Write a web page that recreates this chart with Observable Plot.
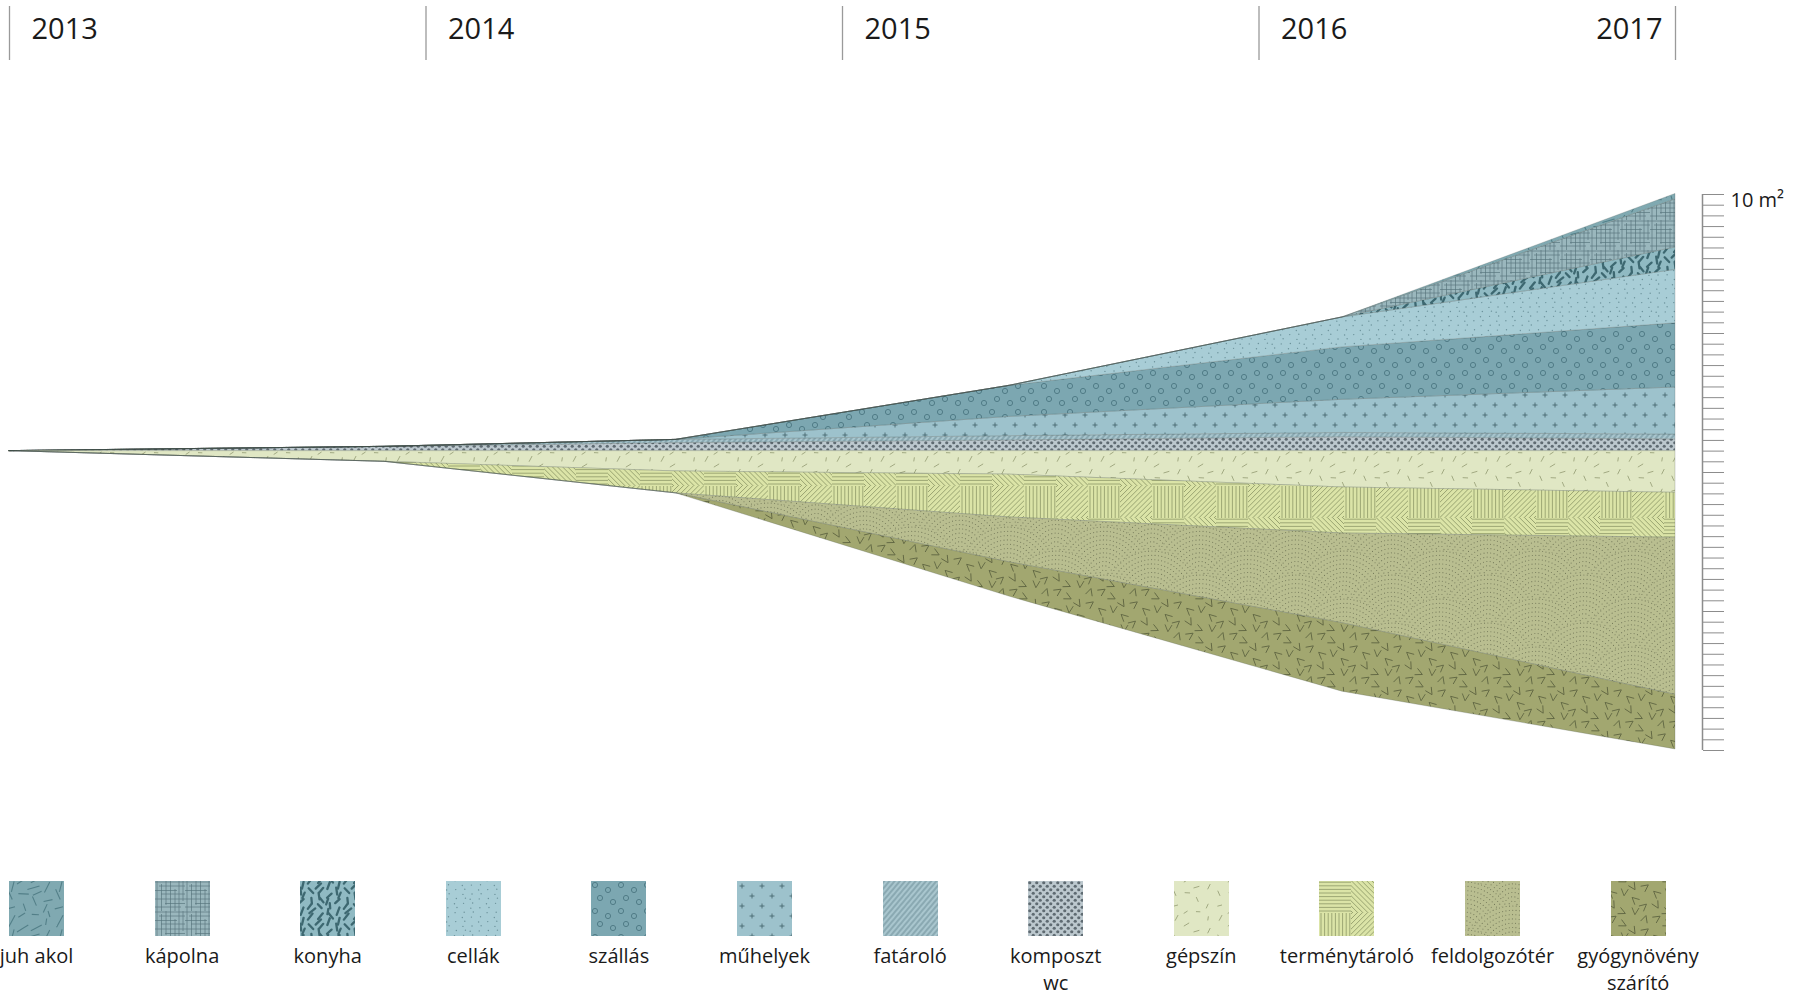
<!DOCTYPE html>
<html>
<head>
<meta charset="utf-8">
<script src="https://cdn.jsdelivr.net/npm/d3@7"></script>
<script src="https://cdn.jsdelivr.net/npm/@observablehq/plot@0.6"></script>
<style>
html, body { margin: 0; padding: 0; background: #fff; overflow: hidden; }
body { width: 1799px; height: 996px; position: relative; font-family: "Open Sans", sans-serif; color: #1a1a1a; }
svg { display: block; }
#legend { position: absolute; left: 0; top: 881px; width: 1799px; height: 115px; }
.item { position: absolute; top: 0; width: 146px; text-align: center; }
.item svg { margin: 0 auto; }
.lab { margin-top: 6px; font-size: 20px; line-height: 27px; white-space: pre-line; }
</style>
</head>
<body>
<svg width="0" height="0" style="position:absolute;left:0;top:0"><defs id="pdefs"></defs></svg>
<div id="header"></div>
<div id="main"></div>
<div id="legend"></div>
<script>
// ---------------- data ----------------
const categories = ["juh akol", "kápolna", "konyha", "cellák", "szállás", "műhelyek", "fatároló", "komposzt wc", "gépszín", "terménytároló", "feldolgozótér", "gyógynövény szárító"];
const legendLabels = ["juh akol", "kápolna", "konyha", "cellák", "szállás", "műhelyek", "fatároló", "komposzt\nwc", "gépszín", "terménytároló", "feldolgozótér", "gyógynövény\nszárító"];
const times = [2013, 2013.9, 2014.6, 2015.4, 2016.2, 2017];
const yearTicks = [2013, 2014, 2015, 2016, 2017];

// m² per category at each time point
const juhAkol       = [0, 0, 0,    0,  0,   5];
const kapolna       = [0, 0, 0,    0,  0,  45];
const konyha        = [0, 0, 0,    0,  0,  21];
const cellak        = [0, 0, 0,    0, 28,  50];
const szallas       = [0, 0, 0,   29, 49,  60];
const muhelyek      = [0, 0, 0,   18, 31,  44];
const fatarolo      = [0, 0, 3,    4,  4, 4.5];
const komposztWc    = [0, 4, 7.5, 10, 13,  11];
const gepszin       = [0, 10, 19, 22, 34,  39];
const termenytarolo = [0, 0, 20.5, 40, 43, 42];
const feldolgozoter = [0, 0, 0,   42, 84, 147];
const gyogynoveny   = [0, 0, 0,   32, 64,  51];

// stacking: upward from the centre line, and downward from it
const upward = [["komposzt wc", komposztWc], ["fatároló", fatarolo], ["műhelyek", muhelyek], ["szállás", szallas], ["cellák", cellak], ["konyha", konyha], ["kápolna", kapolna], ["juh akol", juhAkol]];
const downward = [["gépszín", gepszin], ["terménytároló", termenytarolo], ["feldolgozótér", feldolgozoter], ["gyógynövény szárító", gyogynoveny]];

const scaleMin = -280, scaleMax = 240, scaleStep = 10;
const scaleTicks = d3.range(scaleMin, scaleMax + 1, scaleStep);

const rows = [];
function stack(list, sign) {
  const base = times.map(() => 0);
  for (const [cat, vals] of list) {
    times.forEach((t, j) => {
      const y1 = base[j];
      const y2 = base[j] + sign * vals[j];
      rows.push({t, cat, y1, y2});
      base[j] = y2;
    });
  }
}
stack(upward, 1);
stack(downward, -1);

// ---------------- texture patterns ----------------
const defs = d3.select("#pdefs");
const fr = (i, a) => ((i + 1) * a) % 1;
const px = i => fr(i, 0.7548777), py = i => fr(i, 0.5698403);
const pa = i => (((i + 1) * (i + 2) * 0.3183099) % 1);
function pattern(id, w, h, bg, transform) {
  const p = defs.append("pattern").attr("id", id).attr("patternUnits", "userSpaceOnUse").attr("width", w).attr("height", h);
  if (transform) p.attr("patternTransform", transform);
  p.append("rect").attr("width", w).attr("height", h).attr("fill", bg);
  return p;
}
function wrapped(p, w, h, fn) {
  for (const ox of [-w, 0, w]) for (const oy of [-h, 0, h]) fn(p.append("g").attr("transform", `translate(${ox},${oy})`));
}
function dashes(p, w, h, n, l0, l1, a0, a1, stroke, sw, cap) {
  wrapped(p, w, h, g => {
    for (let i = 0; i < n; i++) {
      const cx = px(i) * w, cy = py(i) * h;
      const L = l0 + fr(i, 0.4142136) * (l1 - l0);
      const a = (a0 + pa(i) * (a1 - a0)) * Math.PI / 180;
      const dx = Math.cos(a) * L / 2, dy = Math.sin(a) * L / 2;
      g.append("line").attr("x1", cx - dx).attr("y1", cy - dy).attr("x2", cx + dx).attr("y2", cy + dy)
        .attr("stroke", stroke).attr("stroke-width", sw).attr("stroke-linecap", cap || "butt");
    }
  });
}
function dots(p, w, h, n, r, fill) {
  wrapped(p, w, h, g => {
    for (let i = 0; i < n; i++) {
      g.append("circle").attr("cx", px(i) * w).attr("cy", py(i) * h).attr("r", r).attr("fill", fill);
    }
  });
}

// 0 juh akol
dashes(pattern("p0", 48, 48, "#80a9b1"), 48, 48, 18, 6, 14, 0, 180, "#527f88", 1.1);
// 1 kápolna
{
  const p = pattern("p1", 30, 30, "#9ab7bd");
  const st = "#55727a";
  [[1, 0, 30], [5, 4, 30], [9.5, 0, 22], [13, 6, 30], [18, 0, 30], [22.5, 10, 30], [26, 0, 26]].forEach(([y, a, b]) =>
    p.append("line").attr("x1", a).attr("x2", b).attr("y1", y).attr("y2", y).attr("stroke", st).attr("stroke-width", 0.65));
  [[2, 0, 30], [6.5, 3, 30], [11, 0, 24], [15.5, 0, 30], [20, 8, 30], [24, 0, 30], [28, 0, 20]].forEach(([x, a, b]) =>
    p.append("line").attr("y1", a).attr("y2", b).attr("x1", x).attr("x2", x).attr("stroke", st).attr("stroke-width", 0.65));
}
// 2 konyha
dashes(pattern("p2", 36, 36, "#90bac3"), 36, 36, 22, 5, 8, 45, 145, "#3d6871", 2.3, "round");
// 3 cellák
dots(pattern("p3", 32, 32, "#a8cdd6"), 32, 32, 22, 0.7, "#6a919a");
// 4 szállás
{
  const p = pattern("p4", 26, 26, "#7ca7b1");
  wrapped(p, 26, 26, g => [[4, 4], [17, 9], [9, 17], [22, 21]].forEach(([x, y]) =>
    g.append("circle").attr("cx", x).attr("cy", y).attr("r", 2.6).attr("fill", "none").attr("stroke", "#4b7681").attr("stroke-width", 0.9)));
}
// 5 műhelyek
{
  const p = pattern("p5", 20, 20, "#9dc2cc");
  wrapped(p, 20, 20, g => [[5, 5], [15, 15]].forEach(([x, y]) =>
    g.append("path").attr("d", `M${x - 2.5},${y}H${x + 2.5}M${x},${y - 2.5}V${y + 2.5}`).attr("stroke", "#3f5e66").attr("stroke-width", 0.8)));
}
// 6 fatároló
{
  const p = pattern("p6", 4, 4, "#a9c6ce", "rotate(40)");
  p.append("line").attr("x1", 1).attr("x2", 1).attr("y1", 0).attr("y2", 4).attr("stroke", "#7d9da6").attr("stroke-width", 1.4);
}
// 7 komposzt wc
{
  const p = pattern("p7", 7, 7, "#bcc8ce");
  wrapped(p, 7, 7, g => [[1.75, 1.75], [5.25, 5.25]].forEach(([x, y]) =>
    g.append("circle").attr("cx", x).attr("cy", y).attr("r", 1.6).attr("fill", "#5f6b72")));
}
// 8 gépszín
dashes(pattern("p8", 44, 44, "#e0e7c4"), 44, 44, 12, 4, 6.5, 0, 180, "#9aa279", 0.9);
// 9 terménytároló
{
  const p = pattern("p9", 64, 64, "#dbe4a7");
  const st = "#8b9766";
  const blocks = [[0, 0, 0], [32, 0, 45], [0, 32, 90], [32, 32, -45]];
  blocks.forEach(([bx, by, ang]) => {
    const s = p.append("svg").attr("x", bx).attr("y", by).attr("width", 32).attr("height", 32).attr("overflow", "hidden");
    const g = s.append("g").attr("transform", `rotate(${ang},16,16)`);
    for (let k = -24; k <= 56; k += 3.6) g.append("line").attr("x1", -20).attr("x2", 52).attr("y1", k).attr("y2", k).attr("stroke", st).attr("stroke-width", 0.8);
  });
}
// 10 feldolgozótér
{
  const R = 48, W = 96, H = 48;
  const p = pattern("p10", W, H, "#b9be90");
  const rowsArc = [[0, [0, 96]], [24, [48]], [48, [0, 96]], [72, [48]]];
  rowsArc.forEach(([cy, xs]) => xs.forEach(cx => {
    p.append("circle").attr("cx", cx).attr("cy", cy).attr("r", R).attr("fill", "#b9be90");
    for (let r = 4; r <= R - 1; r += 4.3) {
      p.append("circle").attr("cx", cx).attr("cy", cy).attr("r", r).attr("fill", "none")
        .attr("stroke", "#777c5b").attr("stroke-width", 1.15).attr("stroke-linecap", "round").attr("stroke-dasharray", "0 3.4");
    }
  }));
}
// 11 gyógynövény szárító
{
  const p = pattern("p11", 44, 44, "#a2a770");
  wrapped(p, 44, 44, g => {
    for (let i = 0; i < 12; i++) {
      const cx = px(i) * 44, cy = py(i) * 44, a = pa(i) * 360;
      g.append("path").attr("d", "M-3.5,-4 L0,3 L3.5,-4").attr("fill", "none")
        .attr("transform", `translate(${cx},${cy}) rotate(${a})`).attr("stroke", "#5f6541").attr("stroke-width", 0.85);
    }
  });
}
const fills = categories.map((c, i) => `url(#p${i})`);

// ---------------- header: years ----------------
const header = Plot.plot({
  width: 1799, height: 70,
  marginTop: 6, marginBottom: 10, marginLeft: 9, marginRight: 124,
  x: {domain: [2013, 2017], axis: null},
  style: {fontFamily: "'Open Sans', sans-serif", color: "#1a1a1a", background: "transparent"},
  marks: [
    Plot.ruleX(yearTicks, {stroke: "#9a9a9a", strokeWidth: 1.3}),
    Plot.text(yearTicks.slice(0, 4), {x: d => d, text: d => String(d), frameAnchor: "middle", textAnchor: "start", dx: 22, dy: -4, fontSize: 29, fill: "#1a1a1a"}),
    Plot.text(yearTicks.slice(4), {x: d => d, text: d => String(d), frameAnchor: "middle", textAnchor: "end", dx: -13, dy: -4, fontSize: 29, fill: "#1a1a1a"})
  ]
});
document.getElementById("header").append(header);

// ---------------- main stream ----------------
const main = Plot.plot({
  width: 1799, height: 800,
  marginTop: 124, marginBottom: 120, marginLeft: 9, marginRight: 124,
  x: {domain: [2013, 2017], axis: null},
  y: {domain: [scaleMin, scaleMax], axis: null},
  color: {domain: categories, range: fills},
  style: {fontFamily: "'Open Sans', sans-serif", fontSize: "20px", color: "#1a1a1a", background: "transparent"},
  marks: [
    Plot.areaY(rows, {x: "t", y1: "y1", y2: "y2", z: "cat", fill: "cat", stroke: "#3e4e4a", strokeOpacity: 0.28, strokeWidth: 0.8}),
    Plot.ruleX([2017], {y1: scaleMin, y2: scaleMax, dx: 27, stroke: "#8c8c8c", strokeWidth: 1.5}),
    Plot.axisY(scaleTicks, {anchor: "right", tickSize: 21, dx: 27, tickFormat: () => "", stroke: "#8c8c8c"}),
    Plot.text([{v: scaleMax, label: "10 m²"}], {y: "v", text: "label", frameAnchor: "right", dx: 55, dy: 6, textAnchor: "start", fontSize: 20, fill: "#1a1a1a"})
  ]
});
document.getElementById("main").append(main);

// ---------------- legend ----------------
const legend = d3.select("#legend");
categories.forEach((c, i) => {
  const left = 9 + i * 145.6 + 27.5 - 73;
  const item = legend.append("div").attr("class", "item").style("left", left + "px");
  const sw = item.append("svg").attr("width", 55).attr("height", 55);
  sw.append("rect").attr("width", 55).attr("height", 55).attr("fill", fills[i]);
  item.append("div").attr("class", "lab").text(legendLabels[i]);
});
</script>
</body>
</html>
